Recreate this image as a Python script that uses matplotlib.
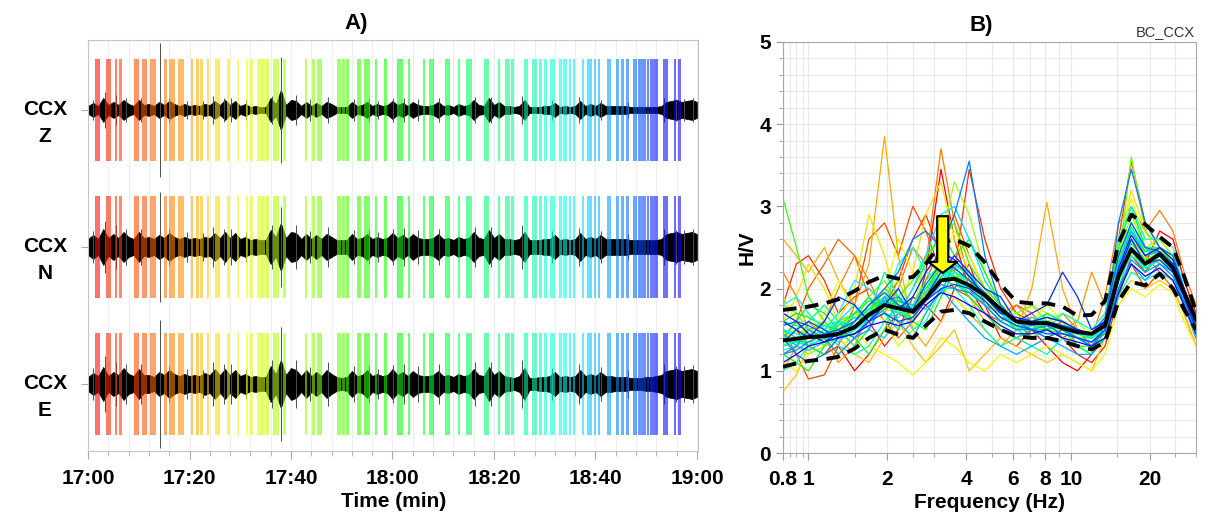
import numpy as np
import matplotlib
matplotlib.use("Agg")
import matplotlib.pyplot as plt
from matplotlib.transforms import blended_transform_factory
from matplotlib.ticker import FixedLocator, NullFormatter

plt.rcParams['font.family'] = ['Liberation Sans', 'DejaVu Sans']

# ---------------- panel A: 3-component noise record, 17:00-19:00 ----------------
minutes = np.arange(0, 121)

# half-amplitude of the trace envelope, one value per minute (plot units)
env_z = [4, 7, 4, 12, 5, 8, 5, 10, 6, 4, 10, 5, 6, 4, 8, 5, 9, 6, 4, 6,
         4, 5, 4, 6, 5, 9, 5, 10, 5, 9, 4, 6, 3, 4, 3, 3, 12, 6, 20, 5,
         10, 9, 4, 8, 4, 7, 4, 8, 6, 3, 3, 3, 8, 4, 5, 8, 4, 6, 4, 5,
         9, 5, 7, 4, 8, 5, 4, 4, 5, 8, 4, 5, 3, 6, 4, 5, 10, 5, 4, 12,
         5, 8, 4, 4, 3, 4, 10, 3, 3, 3, 4, 4, 7, 3, 4, 3, 4, 9, 4, 6,
         4, 7, 4, 4, 4, 4, 4, 3, 3, 3, 3, 3, 3, 4, 8, 9, 10, 8, 9, 10, 8]
env_n = [8, 12, 8, 18, 9, 13, 9, 15, 10, 8, 15, 9, 10, 8, 12, 9, 14, 10, 8, 10,
         8, 9, 8, 10, 9, 14, 9, 15, 9, 14, 8, 10, 7, 8, 7, 7, 17, 10, 24, 9,
         15, 14, 8, 13, 8, 12, 8, 13, 10, 7, 7, 7, 13, 8, 9, 13, 8, 10, 8, 9,
         14, 9, 12, 8, 13, 9, 8, 8, 9, 13, 8, 9, 7, 10, 8, 9, 15, 9, 8, 17,
         9, 13, 8, 8, 7, 8, 15, 7, 7, 7, 8, 8, 12, 7, 8, 7, 8, 14, 8, 10,
         8, 12, 8, 8, 8, 8, 8, 7, 7, 7, 7, 7, 7, 8, 13, 14, 15, 13, 14, 15, 13]
env_e = [7, 11, 8, 17, 8, 12, 9, 16, 10, 8, 15, 9, 9, 7, 12, 9, 14, 10, 8, 10,
         8, 9, 8, 11, 9, 15, 9, 15, 9, 14, 8, 10, 7, 8, 7, 7, 18, 10, 24, 9,
         16, 14, 8, 14, 8, 12, 8, 14, 10, 7, 6, 7, 13, 8, 9, 14, 8, 10, 8, 9,
         15, 9, 12, 8, 13, 9, 8, 8, 9, 13, 8, 9, 7, 10, 8, 9, 15, 9, 8, 17,
         9, 13, 8, 7, 6, 8, 16, 6, 6, 7, 7, 8, 12, 7, 8, 7, 8, 14, 8, 10,
         8, 12, 8, 8, 7, 7, 7, 6, 6, 6, 7, 7, 8, 9, 13, 14, 15, 13, 14, 15, 13]

# isolated spikes / glitches (minute, half-amplitude per component)
spike_t = [1.0, 3.3, 5.6, 7.4, 10.4, 14.2, 16.0, 19.6, 22.6, 24.6, 26.7, 28.1, 31.1, 36.2,
           38.1, 41.0, 43.7, 47.2, 52.4, 55.3, 57.2, 60.1, 62.2, 65.0, 69.1, 76.3, 79.4,
           85.6, 91.5, 96.8, 101.0, 106.5, 113.6, 115.8, 117.5, 119.2]
spike_z = [10, 18, 15, 12, 12, 67, 12, 9, 9, 14, 12, 12, 10, 14, 53, 15, 11, 13, 11, 11,
           9, 12, 12, 11, 12, 13, 13, 14, 10, 13, 10, 8, 12, 11, 11, 12]
spike_n = [16, 26, 22, 18, 18, 55, 18, 15, 14, 20, 18, 18, 15, 22, 40, 22, 16, 20, 17, 17,
           15, 18, 19, 17, 18, 20, 20, 22, 16, 19, 16, 13, 18, 17, 17, 18]
spike_e = [16, 28, 22, 20, 20, 64, 18, 15, 14, 22, 20, 20, 15, 24, 57, 24, 17, 22, 18, 18,
           15, 19, 20, 18, 20, 22, 22, 24, 16, 20, 17, 14, 20, 18, 18, 19]

# selected time windows (start, end in minutes after 17:00)
win_start = [1.4, 3.6, 5.3, 6.1, 9.1, 10.7, 12.2, 15.0, 16.0, 17.8, 20.3, 21.3, 22.1, 23.5,
             25.1, 27.4, 29.4, 31.2, 32.0, 33.2, 34.1, 35.0, 36.5, 38.5, 42.8, 44.2, 45.2,
             49.1, 50.0, 50.8, 53.1, 54.3, 56.6, 58.4, 60.8, 63.0, 66.1, 67.1, 70.3, 73.0,
             74.4, 78.0, 80.7, 82.1, 83.3, 85.9, 87.4, 88.8, 89.8, 91.0, 92.8, 93.6, 94.7,
             95.5, 97.3, 98.3, 99.7, 100.5, 102.2, 104.0, 105.0, 106.0, 107.4, 108.3, 109.2,
             110.1, 110.7, 111.6, 113.3, 115.5, 116.2]
win_end = [2.4, 4.5, 5.7, 6.7, 10.1, 11.6, 13.4, 15.6, 17.2, 19.0, 20.7, 21.9, 22.7, 23.9,
           26.1, 28.0, 29.8, 31.6, 32.6, 34.0, 34.9, 35.7, 37.7, 39.1, 43.2, 44.8, 46.2,
           49.9, 50.7, 51.5, 53.7, 55.5, 57.0, 59.0, 62.0, 63.4, 66.5, 68.1, 71.3, 73.4,
           75.6, 79.0, 81.1, 83.1, 83.9, 86.8, 88.4, 89.4, 90.4, 92.0, 93.4, 94.3, 95.1,
           95.9, 97.7, 99.3, 100.1, 100.9, 103.0, 104.6, 105.6, 106.6, 108.2, 109.1, 109.9,
           110.5, 111.5, 112.3, 114.3, 115.9, 116.8]

components = ['Z', 'N', 'E']
time_labels = ['17:00', '17:20', '17:40', '18:00', '18:20', '18:40', '19:00']

# ---------------- panel B: H/V curves ----------------
freq = [0.8, 0.9, 1.0, 1.15, 1.3, 1.5, 1.7, 1.95, 2.2, 2.5, 2.8, 3.2, 3.6, 4.1, 4.7,
        5.4, 6.2, 7.1, 8.1, 9.3, 10.6, 12.0, 13.5, 15.2, 17.0, 19.2, 21.8, 24.5, 27.0, 30.0]
hv_mean = [1.37, 1.39, 1.41, 1.42, 1.45, 1.53, 1.68, 1.80, 1.76, 1.72, 1.88, 2.10, 2.12, 2.04, 1.92,
           1.75, 1.60, 1.58, 1.58, 1.52, 1.47, 1.45, 1.55, 2.15, 2.48, 2.30, 2.42, 2.25, 1.95, 1.62]
hv_upper = [1.74, 1.76, 1.78, 1.82, 1.87, 1.97, 2.08, 2.16, 2.12, 2.14, 2.30, 2.55, 2.60, 2.52, 2.32,
            2.05, 1.84, 1.82, 1.82, 1.78, 1.67, 1.68, 1.85, 2.55, 2.90, 2.78, 2.63, 2.50, 2.15, 1.72]
hv_lower = [1.05, 1.09, 1.12, 1.14, 1.17, 1.27, 1.40, 1.50, 1.44, 1.40, 1.55, 1.72, 1.74, 1.70, 1.60,
            1.50, 1.42, 1.40, 1.40, 1.36, 1.30, 1.26, 1.35, 1.85, 2.08, 2.04, 2.18, 2.00, 1.75, 1.50]
hv_windows = [
    [1.6, 1.5, 1.3, 1.2, 1.3, 1.0, 1.2, 1.5, 1.7, 1.6, 2.2, 3.45, 2.6, 2.0, 1.7, 1.5, 1.4, 1.5, 1.3, 1.1, 1.0, 1.2, 1.6, 2.2, 2.6, 2.3, 2.7, 2.6, 2.1, 1.7],
    [1.2, 1.3, 1.5, 1.4, 1.2, 1.4, 1.6, 1.3, 1.5, 1.9, 1.8, 1.6, 2.0, 2.3, 1.8, 1.4, 1.3, 1.5, 1.6, 1.4, 1.2, 1.1, 1.3, 1.9, 2.4, 2.2, 2.5, 2.4, 2.0, 1.6],
    [1.8, 2.3, 2.4, 2.1, 1.7, 1.9, 2.0, 1.8, 2.1, 2.6, 2.9, 2.4, 2.2, 3.45, 2.6, 2.0, 1.7, 1.6, 1.5, 1.6, 1.4, 1.3, 1.6, 2.6, 3.55, 2.8, 2.5, 2.3, 1.9, 1.5],
    [1.5, 1.2, 0.9, 0.95, 1.3, 1.8, 2.6, 2.8, 2.4, 3.0, 2.7, 2.2, 2.0, 1.9, 1.7, 1.6, 1.8, 1.7, 1.5, 1.4, 1.5, 1.3, 1.5, 2.0, 2.3, 2.0, 2.2, 2.1, 1.8, 1.4],
    [1.4, 1.6, 2.0, 2.3, 2.6, 2.4, 1.9, 1.6, 1.4, 1.6, 2.1, 2.5, 2.9, 2.4, 2.0, 1.8, 1.6, 1.4, 1.5, 1.6, 1.3, 1.2, 1.4, 2.2, 2.7, 2.4, 2.2, 2.0, 1.7, 1.3],
    [2.2, 1.9, 1.5, 1.6, 2.0, 2.4, 2.1, 1.7, 2.0, 2.5, 2.3, 3.7, 2.8, 2.1, 1.8, 1.7, 1.8, 1.6, 1.5, 1.7, 1.5, 1.4, 1.9, 2.8, 3.0, 2.7, 2.95, 2.7, 2.2, 1.8],
    [1.0, 1.3, 1.6, 1.4, 1.1, 1.3, 1.7, 2.0, 1.8, 1.6, 1.9, 2.4, 2.1, 1.9, 1.6, 1.5, 1.4, 1.3, 1.4, 1.5, 1.6, 2.2, 1.8, 2.4, 2.6, 2.4, 2.3, 2.2, 1.9, 1.5],
    [2.6, 2.4, 2.2, 2.5, 2.1, 1.8, 2.3, 3.85, 2.4, 1.5, 1.3, 1.6, 1.9, 1.7, 1.5, 1.3, 1.5, 2.0, 3.05, 2.0, 1.5, 1.4, 1.6, 2.3, 2.8, 2.5, 2.3, 2.2, 1.8, 1.4],
    [0.75, 0.95, 1.3, 1.6, 1.4, 1.2, 1.1, 1.4, 1.6, 1.3, 1.1, 1.3, 1.5, 1.0, 1.2, 1.4, 1.3, 1.2, 1.1, 1.2, 1.1, 1.0, 1.4, 1.9, 2.1, 2.0, 2.1, 2.0, 1.7, 1.3],
    [1.6, 1.9, 2.3, 2.0, 1.6, 2.0, 2.9, 2.4, 1.8, 2.2, 2.9, 3.3, 2.6, 2.2, 1.9, 1.7, 1.6, 1.8, 1.7, 1.4, 1.3, 1.2, 1.4, 2.5, 3.2, 2.7, 2.4, 2.3, 1.9, 1.5],
    [1.1, 1.0, 1.2, 1.5, 1.7, 1.5, 1.3, 1.2, 1.1, 0.95, 1.1, 1.4, 1.3, 1.1, 1.0, 1.2, 1.1, 1.2, 1.3, 1.2, 1.1, 1.0, 1.2, 1.8, 2.0, 1.9, 2.05, 1.95, 1.6, 1.3],
    [1.9, 1.6, 1.4, 1.7, 2.1, 1.7, 1.5, 1.9, 2.6, 2.2, 1.9, 2.3, 2.7, 2.4, 2.0, 1.7, 1.5, 1.6, 1.8, 1.6, 1.4, 1.5, 1.7, 2.6, 3.1, 2.6, 2.6, 2.4, 2.0, 1.6],
    [1.3, 1.5, 1.7, 1.4, 1.2, 1.5, 1.8, 1.6, 1.3, 1.5, 1.7, 2.0, 1.9, 1.7, 2.1, 1.8, 1.5, 1.4, 1.6, 1.5, 1.3, 1.2, 1.5, 2.1, 2.4, 2.3, 2.4, 2.3, 1.9, 1.5],
    [1.45, 1.5, 1.45, 1.4, 1.5, 1.6, 1.7, 1.85, 1.8, 1.8, 2.0, 2.25, 2.2, 2.05, 1.85, 1.65, 1.55, 1.55, 1.6, 1.55, 1.45, 1.4, 1.55, 2.25, 2.6, 2.35, 2.45, 2.3, 1.95, 1.6],
    [1.5, 1.3, 1.2, 1.3, 1.5, 1.7, 1.6, 1.9, 2.1, 1.7, 2.4, 2.6, 3.3, 2.9, 2.2, 1.8, 1.7, 1.5, 1.6, 1.7, 1.6, 1.4, 1.6, 2.4, 2.9, 2.5, 2.6, 2.4, 2.0, 1.6],
    [1.35, 1.4, 1.5, 1.55, 1.5, 1.55, 1.7, 1.75, 1.7, 1.7, 1.95, 2.15, 2.1, 2.0, 1.85, 1.7, 1.6, 1.55, 1.55, 1.5, 1.45, 1.4, 1.5, 2.2, 2.5, 2.3, 2.4, 2.25, 1.9, 1.55],
    [1.8, 1.7, 1.5, 1.3, 1.4, 1.6, 1.9, 2.1, 1.8, 1.6, 2.0, 2.3, 2.2, 2.0, 1.8, 1.6, 1.7, 1.8, 1.6, 1.5, 1.4, 1.3, 1.6, 2.3, 3.6, 2.7, 2.5, 2.4, 2.0, 1.6],
    [1.5, 1.4, 1.35, 1.45, 1.6, 1.7, 1.75, 1.85, 1.75, 1.75, 1.9, 2.1, 2.15, 2.1, 1.95, 1.75, 1.6, 1.6, 1.6, 1.55, 1.5, 1.45, 1.6, 2.35, 2.7, 2.45, 2.5, 2.35, 2.0, 1.65],
    [3.1, 2.5, 1.9, 1.6, 1.4, 1.5, 1.7, 2.0, 1.9, 2.1, 2.4, 2.6, 2.8, 2.3, 2.0, 1.8, 1.6, 1.5, 1.4, 1.5, 1.3, 1.2, 1.5, 2.2, 2.7, 2.4, 2.5, 2.3, 1.9, 1.5],
    [1.3, 1.35, 1.4, 1.4, 1.45, 1.55, 1.7, 1.85, 1.8, 1.7, 1.85, 2.1, 2.1, 1.95, 1.8, 1.6, 1.5, 1.5, 1.5, 1.45, 1.4, 1.4, 1.5, 2.1, 2.45, 2.25, 2.35, 2.2, 1.85, 1.5],
    [1.2, 1.1, 1.0, 1.3, 1.6, 1.4, 1.2, 1.5, 1.9, 1.6, 1.5, 1.9, 2.2, 2.1, 1.9, 1.7, 1.5, 1.6, 1.5, 1.4, 1.3, 1.3, 1.4, 2.0, 2.5, 2.2, 2.4, 2.2, 1.8, 1.4],
    [1.6, 1.7, 1.65, 1.55, 1.5, 1.6, 1.75, 1.9, 1.85, 1.8, 2.0, 2.25, 2.3, 2.15, 1.95, 1.75, 1.6, 1.6, 1.65, 1.6, 1.5, 1.45, 1.6, 2.3, 2.7, 2.45, 2.5, 2.35, 2.0, 1.6],
    [1.4, 1.6, 1.8, 1.7, 1.5, 1.3, 1.5, 1.9, 1.7, 2.0, 2.3, 2.7, 2.4, 2.6, 2.2, 1.8, 1.6, 1.5, 1.7, 1.6, 1.5, 1.4, 1.6, 2.5, 3.0, 2.5, 2.4, 2.3, 1.9, 1.5],
    [1.4, 1.35, 1.3, 1.4, 1.55, 1.7, 1.85, 1.8, 1.7, 1.75, 1.9, 2.15, 2.25, 2.1, 1.9, 1.7, 1.55, 1.5, 1.5, 1.55, 1.5, 1.4, 1.55, 2.2, 2.55, 2.35, 2.4, 2.25, 1.9, 1.55],
    [1.3, 1.4, 1.3, 1.2, 1.4, 1.7, 1.9, 1.7, 1.5, 1.8, 2.1, 2.3, 2.1, 1.9, 1.7, 1.5, 1.4, 1.5, 1.6, 1.5, 1.4, 1.3, 1.5, 2.1, 2.6, 2.3, 2.45, 2.3, 1.9, 1.5],
    [1.6, 1.55, 1.5, 1.55, 1.6, 1.55, 1.65, 1.9, 1.85, 1.75, 1.95, 2.2, 2.15, 2.05, 1.9, 1.7, 1.6, 1.6, 1.6, 1.5, 1.45, 1.4, 1.55, 2.3, 2.75, 2.45, 2.45, 2.3, 1.95, 1.6],
    [1.6, 1.5, 1.6, 1.8, 1.6, 1.5, 1.7, 2.2, 1.9, 1.8, 2.0, 2.2, 2.4, 2.2, 1.9, 1.7, 1.5, 1.6, 1.7, 1.6, 1.5, 1.4, 1.6, 2.3, 2.8, 2.5, 2.5, 2.4, 2.0, 1.6],
    [1.25, 1.3, 1.4, 1.45, 1.45, 1.5, 1.65, 1.8, 1.7, 1.65, 1.9, 2.1, 2.05, 1.95, 1.8, 1.6, 1.5, 1.55, 1.55, 1.5, 1.4, 1.35, 1.5, 2.1, 2.45, 2.25, 2.35, 2.2, 1.85, 1.5],
    [1.0, 1.1, 1.3, 1.5, 1.3, 1.2, 1.3, 1.6, 1.8, 1.5, 1.6, 2.0, 2.0, 1.8, 1.5, 1.3, 1.4, 1.3, 1.2, 1.4, 1.3, 1.2, 1.4, 1.9, 2.2, 2.1, 2.2, 2.1, 1.8, 1.4],
    [1.5, 1.45, 1.4, 1.5, 1.6, 1.5, 1.6, 1.9, 1.8, 1.7, 1.9, 2.2, 2.1, 2.0, 1.9, 1.7, 1.6, 1.55, 1.6, 1.5, 1.45, 1.4, 1.55, 2.2, 2.6, 2.3, 2.4, 2.2, 1.9, 1.55],
    [1.8, 1.9, 1.7, 1.5, 1.7, 2.1, 2.0, 1.8, 2.3, 2.5, 2.2, 2.1, 2.3, 2.0, 1.8, 1.6, 1.5, 1.4, 1.5, 1.7, 1.6, 1.5, 1.7, 2.6, 3.0, 2.6, 2.6, 2.5, 2.0, 1.6],
    [1.3, 1.35, 1.45, 1.4, 1.35, 1.5, 1.75, 1.7, 1.65, 1.8, 2.0, 2.1, 2.2, 2.1, 1.95, 1.7, 1.55, 1.6, 1.55, 1.5, 1.45, 1.4, 1.5, 2.1, 2.4, 2.25, 2.35, 2.2, 1.9, 1.6],
    [1.5, 1.4, 1.3, 1.4, 1.6, 1.8, 1.5, 1.4, 1.7, 2.0, 2.4, 2.9, 3.0, 2.6, 2.1, 1.8, 1.6, 1.5, 1.6, 1.5, 1.4, 1.3, 1.5, 2.2, 2.7, 2.5, 2.4, 2.3, 1.9, 1.5],
    [1.45, 1.3, 1.25, 1.35, 1.5, 1.65, 1.6, 1.75, 1.85, 1.8, 1.75, 1.95, 2.3, 2.2, 1.85, 1.65, 1.6, 1.65, 1.6, 1.55, 1.5, 1.45, 1.6, 2.3, 2.7, 2.4, 2.45, 2.3, 1.95, 1.6],
    [1.2, 1.3, 1.5, 1.4, 1.2, 1.4, 1.6, 1.9, 1.6, 1.4, 1.7, 2.0, 1.8, 1.6, 1.4, 1.3, 1.2, 1.3, 1.4, 1.3, 1.2, 1.2, 1.4, 2.0, 2.3, 2.1, 2.3, 2.2, 1.8, 1.4],
    [1.2, 1.25, 1.35, 1.45, 1.5, 1.4, 1.5, 1.85, 1.9, 1.7, 1.85, 2.05, 2.0, 1.95, 1.8, 1.6, 1.5, 1.5, 1.55, 1.45, 1.4, 1.35, 1.45, 2.0, 2.35, 2.2, 2.3, 2.15, 1.85, 1.5],
    [1.4, 1.2, 1.1, 1.2, 1.4, 1.6, 1.8, 2.0, 2.2, 2.6, 2.7, 2.5, 2.9, 3.55, 2.4, 1.8, 1.6, 1.5, 1.4, 1.5, 1.4, 1.3, 1.5, 2.8, 3.45, 2.8, 2.5, 2.4, 2.0, 1.6],
    [1.55, 1.6, 1.55, 1.45, 1.5, 1.6, 1.8, 1.95, 1.8, 1.75, 2.05, 2.3, 2.25, 2.1, 1.95, 1.75, 1.6, 1.55, 1.6, 1.55, 1.5, 1.45, 1.65, 2.4, 2.8, 2.5, 2.45, 2.3, 1.95, 1.6],
    [1.35, 1.5, 1.6, 1.5, 1.4, 1.45, 1.6, 1.7, 1.6, 1.65, 1.85, 2.0, 2.05, 2.0, 1.85, 1.65, 1.55, 1.5, 1.45, 1.45, 1.4, 1.35, 1.5, 2.15, 2.5, 2.3, 2.35, 2.2, 1.9, 1.55],
    [1.6, 1.5, 1.4, 1.6, 1.9, 1.8, 1.6, 1.8, 2.0, 1.7, 1.9, 2.2, 2.4, 2.2, 2.0, 1.9, 1.6, 1.7, 1.8, 2.2, 1.9, 1.5, 1.6, 2.2, 2.6, 2.3, 2.4, 2.3, 1.9, 1.5],
    [1.7, 1.6, 1.45, 1.35, 1.45, 1.55, 1.7, 1.8, 1.75, 1.9, 2.2, 2.45, 2.35, 2.15, 1.9, 1.7, 1.65, 1.6, 1.65, 1.6, 1.5, 1.45, 1.6, 2.25, 2.65, 2.4, 2.5, 2.35, 2.0, 1.65],
    [1.1, 1.2, 1.3, 1.35, 1.4, 1.45, 1.55, 1.6, 1.55, 1.6, 1.8, 1.95, 1.9, 1.8, 1.7, 1.55, 1.45, 1.45, 1.5, 1.4, 1.35, 1.3, 1.4, 1.95, 2.3, 2.15, 2.25, 2.1, 1.8, 1.45],
]
peak_freq = 3.25

# ---------------- figure ----------------
fig = plt.figure(figsize=(12.16, 5.21), dpi=100)
axA = fig.add_axes([0.0724, 0.1344, 0.502, 0.789])
axB = fig.add_axes([0.6439, 0.1305, 0.3397, 0.789])

frame_col = '#c4c4c4'
spacing = 137
offsets = {'Z': 2 * spacing, 'N': spacing, 'E': 0}
envs = {'Z': env_z, 'N': env_n, 'E': env_e}
spikes = {'Z': spike_z, 'N': spike_n, 'E': spike_e}

win_start = np.array(win_start)
win_end = np.array(win_end)
win_colors = plt.cm.hsv(np.linspace(0.01, 0.69, len(win_start)))

for comp in components:
    off = offsets[comp]
    env = np.array(envs[comp])
    sp = np.array(spikes[comp])
    axA.fill_between(minutes, off - env, off + env, color='black', lw=0.5, zorder=2)
    axA.vlines(spike_t, off - sp, off + sp, color='0.3', lw=0.7, zorder=2)
    axA.bar(win_start, 102, width=win_end - win_start, bottom=off - 51, align='edge',
            color=win_colors, alpha=0.58, lw=0, zorder=3)

axA.set_xlim(0, 120.3)
axA.set_ylim(-67, 344)
axA.set_xticks(np.arange(0, 121, 20))
axA.set_xticklabels(time_labels)
axA.xaxis.set_minor_locator(FixedLocator(np.arange(0, 121, 4)))
axA.grid(True, which='both', axis='x', color='#eeeeee', lw=0.8, zorder=0)
axA.set_axisbelow(True)
axA.set_yticks([offsets[c] for c in components])
axA.set_yticklabels(['', '', ''])
axA.tick_params(axis='x', which='major', length=6, color='#aaaaaa', labelsize=15, pad=7)
axA.tick_params(axis='x', which='minor', length=3.6, color='#aaaaaa')
axA.tick_params(axis='y', length=5, color='#aaaaaa')
for lbl in axA.get_xticklabels():
    lbl.set_fontweight('bold')
for s in axA.spines.values():
    s.set_color(frame_col)

trans = blended_transform_factory(axA.transAxes, axA.transData)
for comp in components:
    off = offsets[comp]
    axA.text(-0.0705, off, 'CCX', transform=trans, ha='center', va='center',
             fontsize=15, fontweight='bold')
    axA.text(-0.0705, off - 27, comp, transform=trans, ha='center', va='center',
             fontsize=15, fontweight='bold')

axA.set_xlabel('Time (min)', fontsize=15, fontweight='bold', labelpad=3)
axA.set_title('A)', fontsize=16, fontweight='bold', pad=8, x=0.44)

# panel B
hv_colors = plt.cm.hsv(np.linspace(0, 0.68, len(hv_windows)))
for curve, col in zip(hv_windows, hv_colors):
    axB.plot(freq, curve, color=col, lw=0.9, zorder=2)
axB.plot(freq, hv_mean, color='black', lw=2.8, zorder=4)
axB.plot(freq, hv_upper, color='black', lw=2.8, ls=(0, (3.5, 2.2)), zorder=4)
axB.plot(freq, hv_lower, color='black', lw=2.8, ls=(0, (3.5, 2.2)), zorder=4)

axB.annotate('', xy=(peak_freq, 2.19), xytext=(peak_freq, 2.88),
             arrowprops=dict(arrowstyle='simple,head_length=0.8,head_width=2.1,tail_width=0.8',
                             fc='#ffff00', ec='black', lw=1.6, shrinkA=0, shrinkB=0),
             zorder=6)

axB.set_xscale('log')
axB.set_xlim(0.8, 30)
axB.set_ylim(0, 5)
axB.xaxis.set_major_locator(FixedLocator([0.8, 1, 2, 4, 6, 8, 10, 20]))
axB.set_xticklabels(['0.8', '1', '2', '4', '6', '8', '10', '20'])
axB.xaxis.set_minor_locator(FixedLocator([0.85, 0.9, 0.95, 1.5, 2.5, 3, 5, 7, 9, 15, 25, 30]))
axB.xaxis.set_minor_formatter(NullFormatter())
axB.set_yticks([0, 1, 2, 3, 4, 5])
axB.yaxis.set_minor_locator(FixedLocator(np.arange(0, 5.01, 0.2)))
axB.grid(True, which='both', color='#e8e8e8', lw=0.8, zorder=0)
axB.set_axisbelow(True)
axB.tick_params(axis='both', which='major', length=5, color='#999999', labelsize=15)
axB.tick_params(axis='both', which='minor', length=3, color='#999999')
axB.tick_params(axis='x', which='major', pad=7)
for lbl in axB.get_xticklabels() + axB.get_yticklabels():
    lbl.set_fontweight('bold')
for s in axB.spines.values():
    s.set_color('#a8a8a8')

axB.set_xlabel('Frequency (Hz)', fontsize=15, fontweight='bold', labelpad=3)
axB.set_ylabel('H/V', fontsize=15, fontweight='bold', labelpad=2)
axB.set_title('B)', fontsize=16, fontweight='bold', pad=8, x=0.48)
fig.text(1195 / 1216, 1 - 32 / 521, 'BC_CCX', ha='right', va='center', fontsize=10.5, color='#333333')

fig.savefig('out.png', dpi=100)
